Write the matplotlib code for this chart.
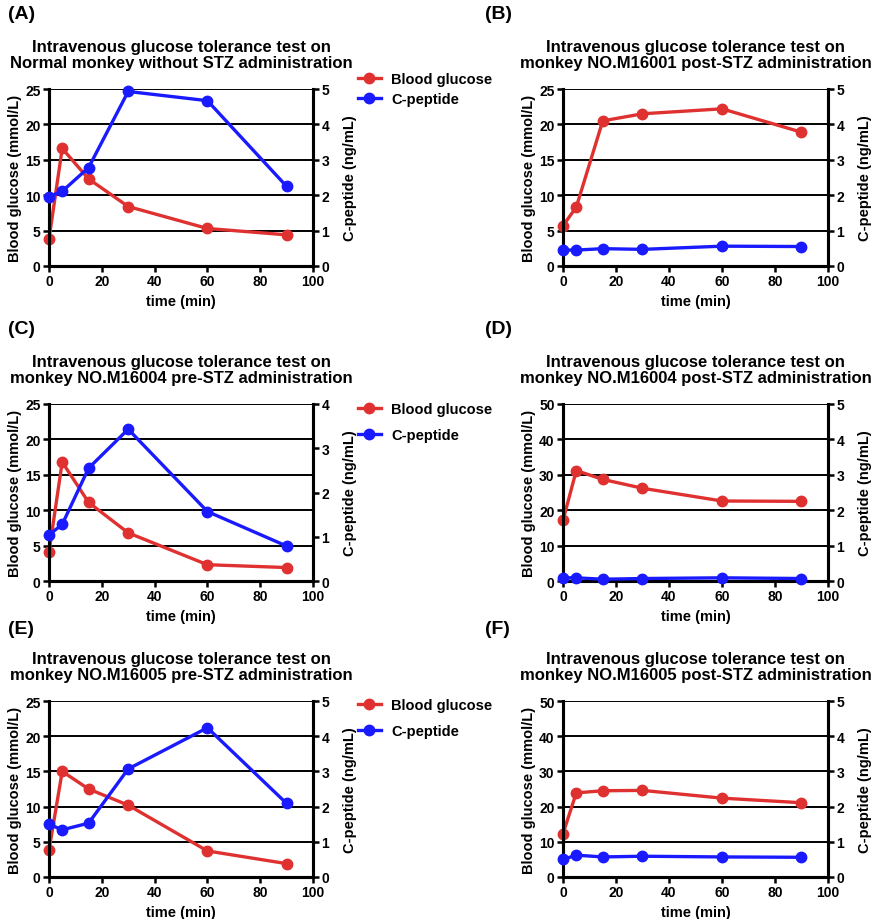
import matplotlib
matplotlib.use("Agg")
import matplotlib.pyplot as plt
from matplotlib.lines import Line2D

plt.rcParams['font.family'] = ['Liberation Sans', 'DejaVu Sans']
plt.rcParams['font.weight'] = 'bold'
plt.rcParams['axes.titleweight'] = 'bold'
plt.rcParams['axes.labelweight'] = 'bold'

RED = '#e03131'
BLUE = '#1a1aff'

time_min = [0, 5, 15, 30, 60, 90]

glucose_a = [3.8, 16.6, 12.3, 8.4, 5.3, 4.4]
cpep_a = [1.96, 2.11, 2.78, 4.93, 4.67, 2.25]

glucose_b = [5.7, 8.3, 20.5, 21.5, 22.2, 18.9]
cpep_b = [0.45, 0.45, 0.49, 0.47, 0.56, 0.55]

glucose_c = [4.1, 16.8, 11.1, 6.8, 2.3, 1.9]
cpep_c = [1.04, 1.28, 2.55, 3.43, 1.57, 0.79]

glucose_d = [17.1, 31.2, 28.7, 26.2, 22.6, 22.5]
cpep_d = [0.09, 0.09, 0.05, 0.07, 0.09, 0.07]

glucose_e = [3.8, 15.0, 12.5, 10.2, 3.7, 1.9]
cpep_e = [1.50, 1.34, 1.53, 3.07, 4.24, 2.09]

glucose_f = [12.3, 23.9, 24.5, 24.6, 22.4, 21.1]
cpep_f = [0.50, 0.62, 0.57, 0.59, 0.57, 0.56]

panel_letters = ['(A)', '(B)', '(C)', '(D)', '(E)', '(F)']
titles = [
    'Intravenous glucose tolerance test on\nNormal monkey without STZ administration',
    'Intravenous glucose tolerance test on\nmonkey NO.M16001 post-STZ administration',
    'Intravenous glucose tolerance test on\nmonkey NO.M16004 pre-STZ administration',
    'Intravenous glucose tolerance test on\nmonkey NO.M16004 post-STZ administration',
    'Intravenous glucose tolerance test on\nmonkey NO.M16005 pre-STZ administration',
    'Intravenous glucose tolerance test on\nmonkey NO.M16005 post-STZ administration',
]
glucose_all = [glucose_a, glucose_b, glucose_c, glucose_d, glucose_e, glucose_f]
cpep_all = [cpep_a, cpep_b, cpep_c, cpep_d, cpep_e, cpep_f]
glucose_max = [25, 25, 25, 50, 25, 50]
cpep_max = [5, 5, 4, 5, 5, 5]

W, H = 878, 920
fig = plt.figure(figsize=(W / 100, H / 100), dpi=100)

# axes boxes in pixels: left, top, right, bottom
col_x = [(49, 313), (563, 828)]
row_y = [(90, 267), (405, 582), (702, 878)]
letter_pos = [(8, 6), (485, 6), (8, 321), (485, 321), (8, 621), (485, 621)]
# legend: (top pixel, row spacing) for panels that carry one
legend_at = {0: (67, 0.45), 2: (397, 0.85), 4: (693, 0.85)}

for i in range(6):
    r, c = divmod(i, 2)
    x0, x1 = col_x[c]
    y0, y1 = row_y[r]
    ax = fig.add_axes([x0 / W, 1 - y1 / H, (x1 - x0) / W, (y1 - y0) / H])
    ax2 = ax.twinx()

    gmax = glucose_max[i]
    ax.set_xlim(0, 100)
    ax.set_ylim(0, gmax)
    ax.set_xticks(range(0, 101, 20))
    ax.set_yticks(range(0, gmax + 1, gmax // 5))
    ax2.set_ylim(0, cpep_max[i])
    ax2.set_yticks(range(0, cpep_max[i] + 1))

    ax.grid(axis='y', color='black', linewidth=1.4)
    ax.set_axisbelow(True)
    for a in (ax, ax2):
        a.spines['top'].set_visible(False)
        for s in ('left', 'right', 'bottom'):
            a.spines[s].set_linewidth(2.2)
        a.tick_params(width=1.8, length=4, labelsize=10, pad=2)

    ax.plot(time_min, glucose_all[i], color=RED, lw=2.4, marker='o', ms=7.5,
            clip_on=False, zorder=3)
    ax2.plot(time_min, cpep_all[i], color=BLUE, lw=2.4, marker='o', ms=7.5,
             clip_on=False, zorder=3)

    ax.set_xlabel('time (min)', fontsize=10.5, labelpad=4)
    ax.set_ylabel('Blood glucose (mmol/L)', fontsize=10.5, labelpad=2)
    ax2.set_ylabel('C-peptide (ng/mL)', fontsize=10.5, labelpad=10)
    ax.set_title(titles[i], fontsize=12, pad=16, linespacing=1.05)

    lx, ly = letter_pos[i]
    fig.text(lx / W, 1 - ly / H, panel_letters[i], fontsize=14,
             ha='left', va='top')

    if i in legend_at:
        top, spacing = legend_at[i]
        handles = [
            Line2D([], [], color=RED, lw=2.4, marker='o', ms=7.5),
            Line2D([], [], color=BLUE, lw=2.4, marker='o', ms=7.5),
        ]
        fig.legend(handles, ['Blood glucose', 'C-peptide'],
                   loc='upper left', bbox_to_anchor=(352 / W, 1 - top / H),
                   frameon=False, fontsize=10.5, handlelength=1.6,
                   handletextpad=0.7, labelspacing=spacing, borderaxespad=0)

fig.savefig('out.png', dpi=100)
